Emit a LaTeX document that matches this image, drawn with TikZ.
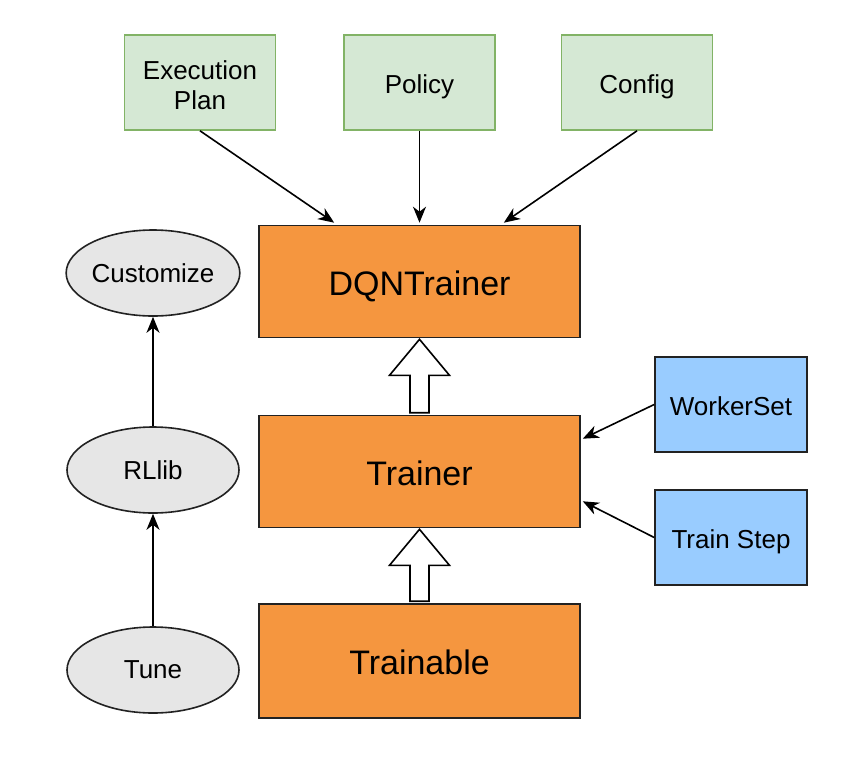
\documentclass[tikz,border=0pt]{standalone}
\usepackage{fontspec}
\setmainfont{Liberation Sans}
\usetikzlibrary{arrows.meta,calc,shapes.geometric}
\definecolor{gfill}{HTML}{D5E8D4}
\definecolor{gline}{HTML}{82B366}
\definecolor{ofill}{HTML}{F5963F}
\definecolor{bfill}{HTML}{99CCFF}
\definecolor{efill}{HTML}{E6E6E6}
\definecolor{dline}{HTML}{222222}
\begin{document}
\begin{tikzpicture}[x=1pt,y=-1pt,
  stext/.style={text height=21.7pt,text depth=0pt},
  btext/.style={text height=27.5pt,text depth=0pt},
  gbox/.style={draw=gline,fill=gfill,line width=1.6pt,minimum width=151pt,minimum height=95pt,align=center,font=\fontsize{26}{30}\selectfont,inner sep=0pt},
  obox/.style={btext,draw=dline,fill=ofill,line width=1.6pt,minimum width=321pt,minimum height=112pt,font=\fontsize{34}{38}\selectfont,inner sep=0pt},
  bbox/.style={stext,draw=dline,fill=bfill,line width=1.6pt,minimum width=152pt,minimum height=95pt,font=\fontsize{26}{30}\selectfont,inner sep=0pt},
  ell/.style={ellipse,draw=dline,fill=efill,line width=1.6pt,minimum width=172pt,minimum height=86pt,font=\fontsize{26}{30}\selectfont,inner sep=0pt},
  conn/.style={draw=black,line width=1.6pt,-{Stealth[length=16pt,width=13pt,inset=5pt]}},
  hollow/.style={draw=black,fill=white,line width=1.6pt,line join=miter}
]
\useasboundingbox[fill=white] (0,0) rectangle (860,756);

\node[gbox] (ep) at (200,82.5) {};
\node[align=center,font=\fontsize{26}{30}\selectfont,inner sep=0pt] (ept) at (200,85) {Execution\\Plan};
\node[gbox,stext] (pol) at (419.5,82.5) {Policy};
\node[gbox,stext] (cfg) at (637,82.5) {Config};

\node[obox] (dqn) at (419.5,281.5) {DQNTrainer};
\node[obox] (tr) at (419.5,471.5) {Trainer};
\node[obox,minimum height=114pt] (tb) at (419.5,661) {Trainable};

\node[bbox] (ws) at (731,404.5) {WorkerSet};
\node[bbox] (ts) at (731,537.5) {Train Step};

\node[ell] (cu) at (153,273) {Customize};
\node[ell] (rl) at (153,470) {RLlib};
\node[ell] (tu) at (153,670) {Tune};

% hollow inheritance arrows
\foreach \lo/\hi in {tr/dqn,tb/tr}{
  \draw[hollow] ($(\hi.south)+(-9.5,37)$) -- ($(\hi.south)+(-30,37)$) -- ($(\hi.south)+(0,1)$) -- ($(\hi.south)+(30,37)$) -- ($(\hi.south)+(9.5,37)$) -- ($(\lo.north)+(9.5,-2)$) -- ($(\lo.north)+(-9.5,-2)$) -- cycle;
}

\draw[conn] (ep.south) -- ($(dqn.north west)+(76,-2)$);
\draw[conn] (pol.south) -- ($(dqn.north)+(0,-2)$);
\draw[conn] (cfg.south) -- ($(dqn.north east)+(-77,-2)$);

\draw[conn] (ws.west) -- ($(tr.north east)+(2,24)$);
\draw[conn] (ts.west) -- ($(tr.south east)+(2,-27)$);

\draw[conn] (rl.north) -- (cu.south);
\draw[conn] (tu.north) -- (rl.south);
\end{tikzpicture}
\end{document}
